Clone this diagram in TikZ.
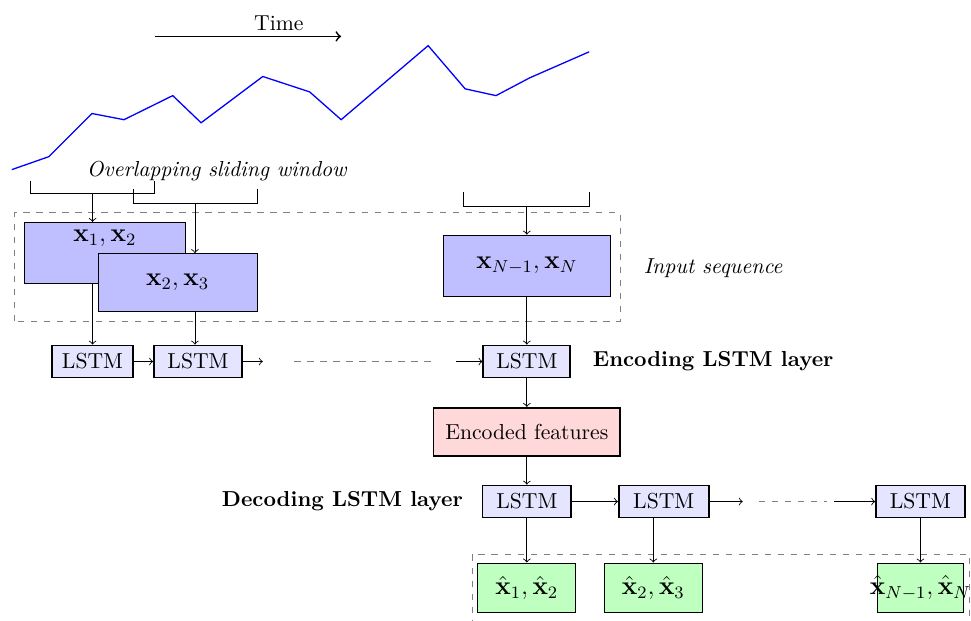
\documentclass[tikz,border=0pt]{standalone}
\usepackage{amsmath}
\usetikzlibrary{arrows,positioning,calc}
\tikzstyle{lstm}=[rectangle,draw=black,thick,fill=blue!10,minimum height=0.52cm,inner sep=0mm]
\tikzstyle{inbox}=[rectangle,draw=black,fill=blue!25,minimum height=1cm,font=\large]
\tikzstyle{outbox}=[rectangle,draw=black,fill=green!25,minimum height=0.81cm,font=\large]
\tikzstyle{feat}=[rectangle,draw=black,thick,fill=red!15,minimum width=3.03cm,minimum height=0.78cm]
\tikzstyle{frame}=[draw=gray,dashed]

\begin{document}
\begin{tikzpicture}[]
\useasboundingbox (0,0) rectangle (15.74,10.06);

\draw[->,thick] (2.51,9.47) -- (5.53,9.47);
\node (time) at (4.52,9.69) {Time};

\draw[blue,semithick] (0.19,7.31) -- (0.79,7.52) -- (1.49,8.22) -- (2.01,8.12) -- (2.80,8.51)
  -- (3.26,8.07) -- (4.26,8.82) -- (5.02,8.57) -- (5.53,8.12) -- (6.94,9.32) -- (7.54,8.62)
  -- (8.04,8.51) -- (8.59,8.80) -- (9.55,9.22);

\node (olap) at (3.52,7.29) {\textit{Overlapping sliding window}};

\draw (0.50,7.12) -- (0.50,6.92) -- (2.50,6.92) -- (2.50,7.12);
\draw (2.16,7.00) -- (2.16,6.76) -- (4.17,6.76) -- (4.17,7.00);
\draw (7.52,6.94) -- (7.52,6.71) -- (9.55,6.71) -- (9.55,6.94);
\coordinate (w1) at (1.50,6.92);
\coordinate (w2) at (3.16,6.76);
\coordinate (w3) at (8.54,6.71);

\draw[frame] (0.24,4.85) rectangle (10.05,6.61);

\node (x12) at (1.70,5.96) [inbox,minimum width=2.62cm,minimum height=0.99cm,
  label={[anchor=north,font=\large]north:$\mathbf{x}_1,\mathbf{x}_2$}] {};
\node (x23) at (2.88,5.48) [inbox,minimum width=2.57cm,minimum height=0.94cm] {$\mathbf{x}_2,\mathbf{x}_3$};
\node (xN) at (8.54,5.75) [inbox,minimum width=2.72cm] {$\mathbf{x}_{N-1},\mathbf{x}_N$};
\node (inseq) at (11.56,5.72) {\textit{Input sequence}};

\draw[->] (w1) -- (w1 |- x12.north);
\draw[->] (w2) -- (w2 |- x23.north);
\draw[->] (w3) -- (xN);

\node (e1) at (1.50,4.20) [lstm,minimum width=1.31cm] {LSTM};
\node (e2) at (3.21,4.20) [lstm,minimum width=1.43cm] {LSTM};
\node (eN) at (8.54,4.20) [lstm,minimum width=1.41cm] {LSTM};
\node (enclab) at (11.56,4.20) {\textbf{Encoding LSTM layer}};
\coordinate (e2r) at (4.26,4.20);
\coordinate (ea) at (4.77,4.20);
\coordinate (eb) at (7.00,4.20);
\coordinate (eNl) at (7.39,4.20);

\draw[->] (e1 |- x12.south) -- (e1);
\draw[->] (w2 |- x23.south) -- (w2 |- e2.north);
\draw[->] (xN) -- (eN);
\draw[->] (e1) -- (e2);
\draw[->] (e2) -- (e2r);
\draw[gray,dashed] (ea) -- (eb);
\draw[->] (eNl) -- (eN);

\node (feat) at (8.54,3.06) [feat] {Encoded features};
\draw[->] (eN) -- (feat);

\node (d1) at (8.54,1.93) [lstm,minimum width=1.44cm] {LSTM};
\node (d2) at (10.76,1.93) [lstm,minimum width=1.46cm] {LSTM};
\node (dN) at (14.92,1.93) [lstm,minimum width=1.44cm] {LSTM};
\node (declab) at (5.55,1.93) {\textbf{Decoding LSTM layer}};
\coordinate (d2r) at (12.04,1.93);
\coordinate (da) at (12.30,1.93);
\coordinate (db) at (13.40,1.93);
\coordinate (dNl) at (13.52,1.93);

\draw[->] (feat) -- (d1);
\draw[->] (d1) -- (d2);
\draw[->] (d2) -- (d2r);
\draw[gray,dashed] (da) -- (db);
\draw[->] (dNl) -- (dN);

\draw[frame] (7.65,-0.3) rectangle (15.72,1.07);

\node (y12) at (8.54,0.53) [outbox,minimum width=1.59cm] {$\hat{\mathbf{x}}_1,\hat{\mathbf{x}}_2$};
\node (y23) at (10.59,0.53) [outbox,minimum width=1.60cm] {$\hat{\mathbf{x}}_2,\hat{\mathbf{x}}_3$};
\node (yN) at (14.92,0.53) [outbox,minimum width=1.39cm,
  label={[font=\large]center:$\hat{\mathbf{x}}_{N-1},\hat{\mathbf{x}}_N$}] {};

\draw[->] (d1) -- (y12);
\draw[->] (y23 |- d2.south) -- (y23.north);
\draw[->] (dN) -- (yN);
\end{tikzpicture}
\end{document}
